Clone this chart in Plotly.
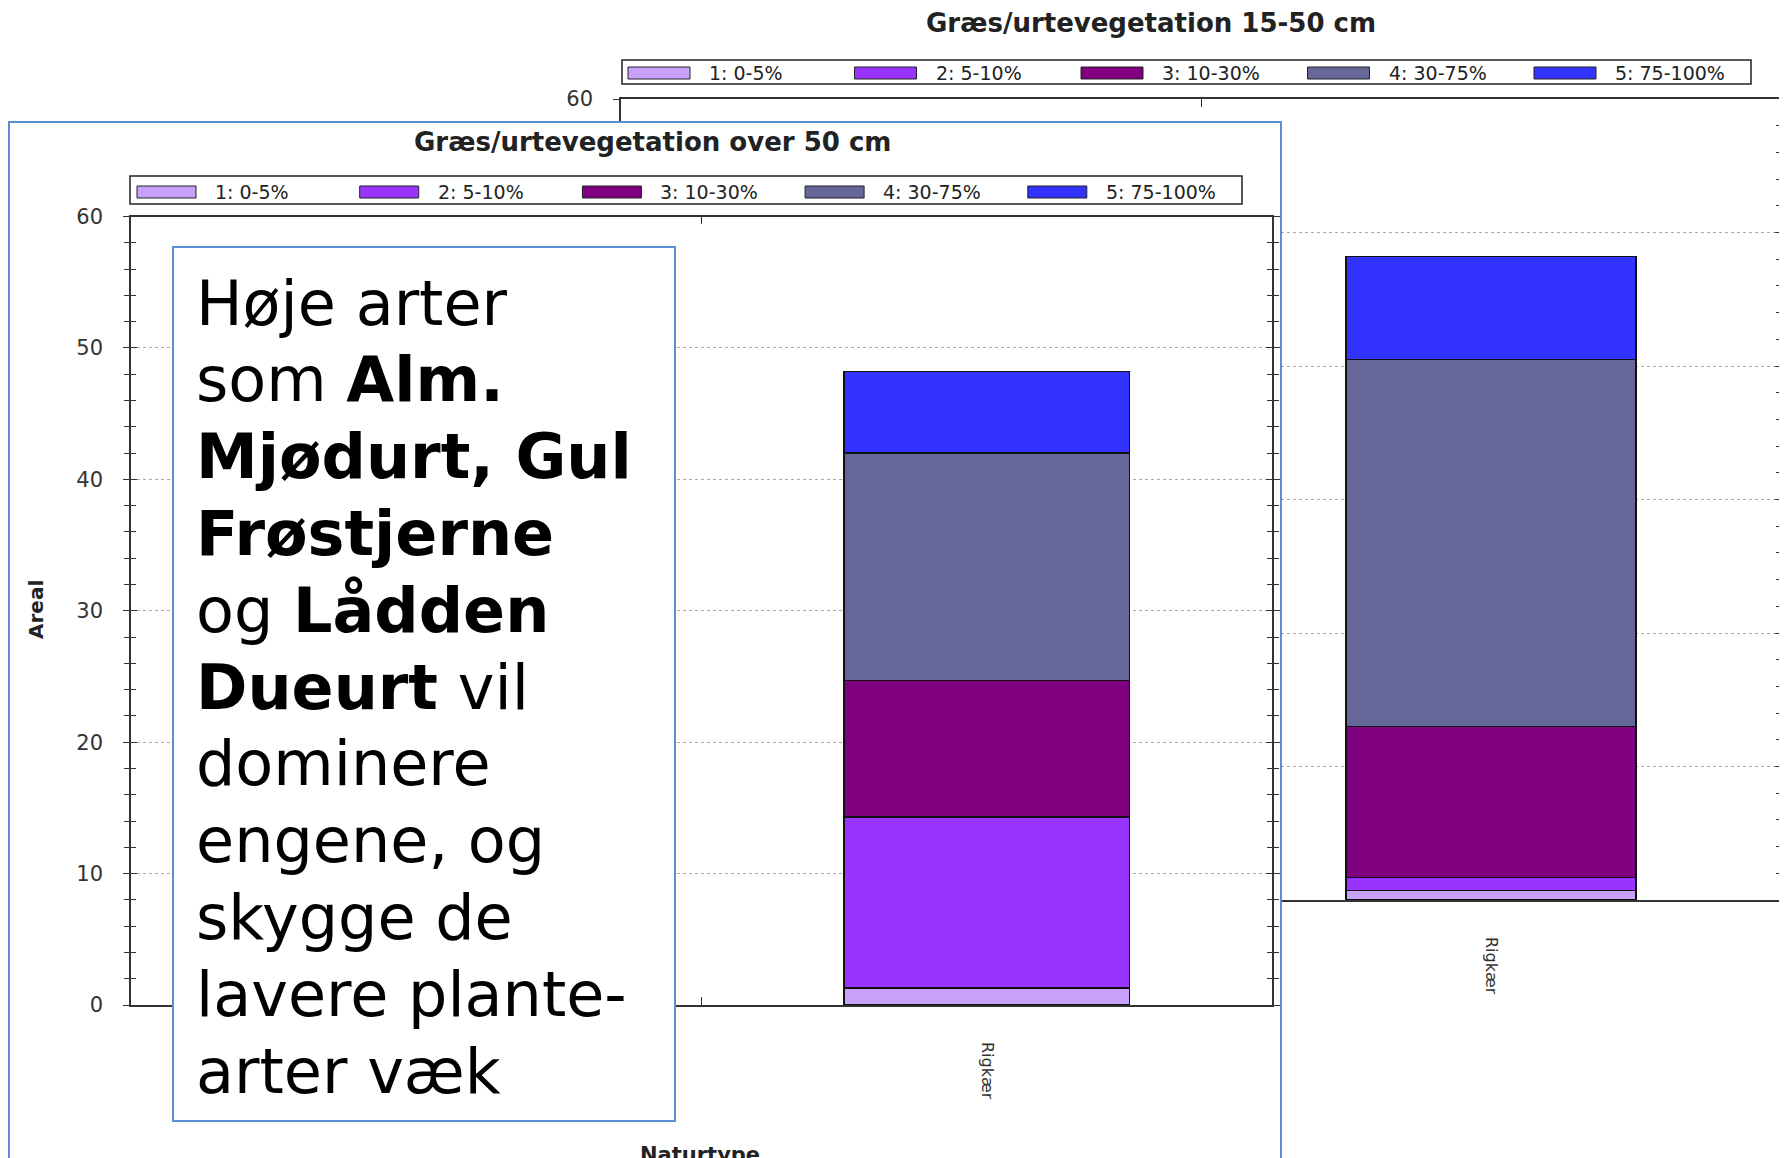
import plotly.graph_objects as go

# page body has an 8 px margin, so the figure is drawn 8 px in from the corner
OFF = 8
W, H = 1787 - OFF, 1158 - OFF

# ---------------- data ----------------
naturtyper = ["Fersk eng", "Rigkær"]
klasser = ["1: 0-5%", "2: 5-10%", "3: 10-30%", "4: 30-75%", "5: 75-100%"]
farver = ["#C8A2FA", "#9933FF", "#800080", "#666699", "#3333FF"]

# Græs/urtevegetation 15-50 cm (bagerste figur) - areal pr. dækningsklasse
fersk_eng_15_50 = [None, None, None, None, None]   # skjult bag forreste figur
rigkaer_15_50 = [0.7, 1.0, 11.3, 27.5, 7.7]

# Græs/urtevegetation over 50 cm (forreste figur)
fersk_eng_over_50 = [None, None, None, None, None]  # skjult bag tekstboks
rigkaer_over_50 = [1.3, 13.0, 10.4, 17.3, 6.2]

titel_bag = "Græs/urtevegetation 15-50 cm"
titel_for = "Græs/urtevegetation over 50 cm"
y_titel = "Areal"
x_titel = "Naturtype"
y_ticks = [0, 10, 20, 30, 40, 50, 60]

tekst_linjer = [
    "Høje arter",
    "som <b>Alm.</b>",
    "<b>Mjødurt, Gul</b>",
    "<b>Frøstjerne</b>",
    "og <b>Lådden</b>",
    "<b>Dueurt</b> vil",
    "dominere",
    "engene, og",
    "skygge de",
    "lavere plante-",
    "arter væk",
]

# ---------------- helpers (screen pixel -> paper fraction) ----------------
def px(x):
    return (x - OFF) / W


def py(y):
    return 1 - (y - OFF) / H


AX = "#333333"
BOXBLUE = "#5B8ED6"
TICKFONT = dict(family="DejaVu Sans, Arial", size=21, color="#333333")

fig = go.Figure()

for i, k in enumerate(klasser):
    fig.add_trace(go.Bar(
        x=naturtyper, y=[fersk_eng_15_50[i], rigkaer_15_50[i]],
        xaxis="x", yaxis="y", name=k, showlegend=False,
        marker=dict(color=farver[i], line=dict(color="#111111", width=1.5)),
    ))
for i, k in enumerate(klasser):
    fig.add_trace(go.Bar(
        x=naturtyper, y=[fersk_eng_over_50[i], rigkaer_over_50[i]],
        xaxis="x3", yaxis="y3", name=k, showlegend=False,
        marker=dict(color=farver[i], line=dict(color="#111111", width=1.5)),
    ))

# empty carrier traces so that the box subplots / overlay axes get drawn
for xa, ya in [("x", "y5"), ("x2", "y2"), ("x3", "y6"), ("x4", "y4")]:
    fig.add_trace(go.Scatter(x=[None], y=[None], xaxis=xa, yaxis=ya, mode="markers",
                             showlegend=False, hoverinfo="skip"))


def x_axis(dom, anchor):
    return dict(
        domain=dom, anchor=anchor, type="category", categoryorder="array",
        categoryarray=naturtyper, range=[-0.5, 1.5], tickson="boundaries",
        ticks="inside", ticklen=8, tickcolor=AX, tickwidth=1.2,
        showline=True, linecolor=AX, linewidth=1.5, mirror="ticks",
        tickangle=90, tickfont=dict(family="DejaVu Sans, Arial", size=16, color="#333333"),
        ticklabelstandoff=32, showgrid=False, zeroline=False, fixedrange=True,
        automargin=False,
    )


def y_axis(dom, anchor):
    return dict(
        domain=dom, anchor=anchor, range=[0, 60], tickmode="array", tickvals=y_ticks,
        ticks="outside", ticklen=6, tickcolor=AX, tickwidth=1.2,
        minor=dict(tickmode="linear", tick0=0, dtick=2, ticks="outside", ticklen=5,
                   tickcolor=AX, tickwidth=1.2, showgrid=False),
        showline=True, linecolor=AX, linewidth=1.5, mirror="ticks",
        showgrid=True, gridcolor="#A8A8A8", griddash="dot", gridwidth=1,
        zeroline=False, tickfont=TICKFONT, ticklabelstandoff=16, fixedrange=True,
        automargin=False,
    )


def y_overlay(over, anchor):
    return dict(
        overlaying=over, anchor=anchor, side="left", range=[0, 60],
        tickmode="array", tickvals=y_ticks, ticks="inside", ticklen=6,
        tickcolor=AX, tickwidth=1.2,
        minor=dict(tickmode="linear", tick0=0, dtick=2, ticks="inside", ticklen=5,
                   tickcolor=AX, tickwidth=1.2, showgrid=False),
        showline=True, linecolor=AX, linewidth=1.5, mirror="ticks",
        showgrid=False, zeroline=False, showticklabels=False, fixedrange=True,
        automargin=False,
    )


def box_axis(dom, anchor, **kw):
    d = dict(domain=dom, anchor=anchor, range=[0, 1], showline=True,
             linecolor=BOXBLUE, linewidth=1.5, showgrid=False, zeroline=False,
             showticklabels=False, ticks="", fixedrange=True, automargin=False)
    d.update(kw)
    return d


back_x = [px(621), px(1781)]
back_y = [py(900), py(99)]
front_x = [px(131), px(1272)]
front_y = [py(1005), py(216.5)]

fig.update_layout(
    template="none",
    width=W, height=H, autosize=False,
    margin=dict(l=0, r=0, t=0, b=0, pad=0, autoexpand=False),
    paper_bgcolor="white", plot_bgcolor="white",
    barmode="stack", bargap=0.5, showlegend=False,
    xaxis=x_axis(back_x, "y"),
    yaxis=y_axis(back_y, "x"),
    yaxis5=y_overlay("y", "x"),
    xaxis2=box_axis([px(10), px(1280)], "y2", side="top"),
    yaxis2=box_axis([0, py(123)], "x2", mirror=True),
    xaxis3=x_axis(front_x, "y3"),
    yaxis3=y_axis(front_y, "x3"),
    yaxis6=y_overlay("y3", "x3"),
    xaxis4=box_axis([px(174), px(674)], "y4", mirror=True),
    yaxis4=box_axis([py(1120), py(248)], "x4", mirror=True),
)

annotations = []
shapes = []


def note(text, x, y, size, bold=False, xanchor="center", yanchor="middle", **kw):
    annotations.append(dict(
        text=("<b>" + text + "</b>") if bold else text,
        x=px(x), y=py(y), xref="paper", yref="paper", showarrow=False,
        xanchor=xanchor, yanchor=yanchor,
        font=dict(family="DejaVu Sans, Arial", size=size, color=kw.pop("color", "#222222")),
        **kw))


note(titel_bag, 1151, 23, 26, bold=True)
note(titel_for, 652, 142, 26, bold=True)
note(y_titel, 36, 610, 20, bold=True, textangle=-90)
note(x_titel, 700, 1141, 21, bold=True, yanchor="top")


def legend(bx0, bx1, by0, by1, sx0, pitch, sw, sy0, sy1, toff):
    shapes.append(dict(type="rect", xref="paper", yref="paper", layer="above",
                       x0=px(bx0), x1=px(bx1), y0=py(by1), y1=py(by0),
                       line=dict(color="#222222", width=1.5), fillcolor="rgba(0,0,0,0)"))
    for i, k in enumerate(klasser):
        x0 = sx0 + i * pitch
        shapes.append(dict(type="rect", xref="paper", yref="paper", layer="above",
                           x0=px(x0), x1=px(x0 + sw), y0=py(sy1), y1=py(sy0),
                           line=dict(color="#222222", width=1), fillcolor=farver[i]))
        note(k, x0 + toff, (sy0 + sy1) / 2, 19, xanchor="left")


legend(622, 1751, 60, 84, 628, 226.5, 62, 67, 79, 79)
legend(130, 1242, 176, 204, 137, 222.7, 59, 186, 198, 76)

TXT = 62
for j, line in enumerate(tekst_linjer):
    baseline = 324.8 + j * 76.8
    note(line, 194, baseline - 0.35 * TXT, TXT, xanchor="left", color="black")

fig.update_layout(annotations=annotations, shapes=shapes)

fig.write_html("out.html")
